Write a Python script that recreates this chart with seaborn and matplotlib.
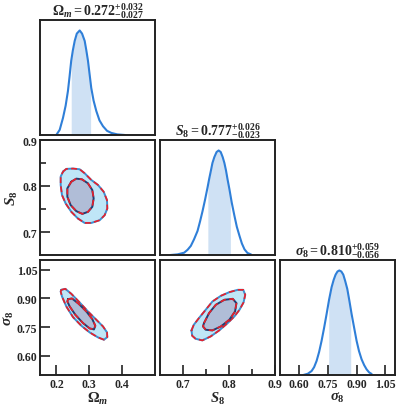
import numpy as np
import matplotlib
matplotlib.use('Agg')
import matplotlib.pyplot as plt
import seaborn as sns

# 1D marginals (peak normalised to 1)
om_x = [0.1996, 0.210, 0.220, 0.228, 0.235, 0.240, 0.245, 0.250, 0.2556, 0.262, 0.2708,
        0.278, 0.286, 0.291, 0.296, 0.301, 0.306, 0.313, 0.3213, 0.331, 0.3417, 0.354, 0.367, 0.385, 0.408]
om_p = [0.0, 0.05, 0.164, 0.28, 0.42, 0.56, 0.71, 0.81, 0.90, 0.97, 1.0,
        0.97, 0.90, 0.81, 0.71, 0.58, 0.45, 0.33, 0.23, 0.14, 0.084, 0.04, 0.02, 0.006, 0.0]
s8_x = [0.6732, 0.688, 0.7025, 0.710, 0.7170, 0.724, 0.7316, 0.737, 0.7425, 0.748, 0.7534, 0.757,
        0.7607, 0.764, 0.7681, 0.773, 0.7775, 0.782, 0.7863, 0.790, 0.7935, 0.797, 0.8009, 0.806,
        0.8118, 0.817, 0.8228, 0.828, 0.8337, 0.840, 0.848]
s8_p = [0.0, 0.006, 0.022, 0.05, 0.087, 0.15, 0.23, 0.32, 0.42, 0.53, 0.647, 0.73,
        0.808, 0.88, 0.936, 0.985, 1.0, 0.985, 0.936, 0.88, 0.808, 0.72, 0.63, 0.50,
        0.375, 0.27, 0.183, 0.11, 0.054, 0.02, 0.005]
sig_x = [0.6216, 0.645, 0.6649, 0.678, 0.6910, 0.704, 0.7170, 0.730, 0.7431, 0.756, 0.7692,
         0.780, 0.7901, 0.800, 0.8094, 0.820, 0.8302, 0.840, 0.8511, 0.862, 0.8736, 0.887,
         0.8996, 0.912, 0.9257, 0.939, 0.9518, 0.965, 0.978]
sig_p = [0.0, 0.012, 0.038, 0.075, 0.135, 0.22, 0.327, 0.45, 0.583, 0.72, 0.84,
         0.91, 0.96, 0.99, 1.0, 0.99, 0.96, 0.90, 0.823, 0.71, 0.583, 0.45,
         0.327, 0.23, 0.15, 0.095, 0.054, 0.025, 0.01]

# constraints from the panel titles
om_val, om_up, om_lo = 0.272, 0.032, 0.027
s8_val, s8_up, s8_lo = 0.777, 0.026, 0.023
sig_val, sig_up, sig_lo = 0.810, 0.059, 0.056

# 2D contours (68% inner, 95% outer)
om_s8_out_x = [0.2200, 0.2301, 0.2504, 0.2707, 0.2859, 0.3062, 0.3265, 0.3437, 0.3539, 0.3549, 0.3468, 0.3315, 0.3062, 0.2859, 0.2656, 0.2453, 0.2281, 0.2169, 0.2129, 0.2129]
om_s8_out_y = [0.8313, 0.8372, 0.8379, 0.8364, 0.8277, 0.8131, 0.8022, 0.7876, 0.7693, 0.7511, 0.7365, 0.7256, 0.7197, 0.7197, 0.7292, 0.7438, 0.7620, 0.7803, 0.8022, 0.8204]
om_s8_in_x = [0.2453, 0.2605, 0.2778, 0.2959, 0.3092, 0.3133, 0.3092, 0.2961, 0.2788, 0.2605, 0.2433, 0.2332, 0.2332]
om_s8_in_y = [0.8094, 0.8160, 0.8145, 0.8058, 0.7912, 0.7730, 0.7548, 0.7438, 0.7394, 0.7453, 0.7584, 0.7766, 0.7949]

om_sig_out_x = [0.2149, 0.2271, 0.2453, 0.2707, 0.2960, 0.3214, 0.3417, 0.3539, 0.3549, 0.3447, 0.3265, 0.3011, 0.2758, 0.2504, 0.2301, 0.2169, 0.2129]
om_sig_out_y = [0.9444, 0.9496, 0.9236, 0.8784, 0.8316, 0.7882, 0.7534, 0.7222, 0.6979, 0.6840, 0.6962, 0.7222, 0.7569, 0.8020, 0.8576, 0.9097, 0.9357]
om_sig_in_x = [0.2352, 0.2474, 0.2677, 0.2910, 0.3092, 0.3184, 0.3143, 0.3011, 0.2809, 0.2575, 0.2403, 0.2332]
om_sig_in_y = [0.8958, 0.8993, 0.8715, 0.8316, 0.7916, 0.7569, 0.7378, 0.7430, 0.7708, 0.8142, 0.8576, 0.8836]

s8_sig_out_x = [0.7184, 0.7235, 0.7346, 0.7493, 0.7640, 0.7824, 0.8007, 0.8191, 0.8309, 0.8353, 0.8316, 0.8228, 0.8117, 0.7971, 0.7787, 0.7603, 0.7420, 0.7272, 0.7199]
s8_sig_out_y = [0.7326, 0.7621, 0.7968, 0.8402, 0.8836, 0.9132, 0.9322, 0.9444, 0.9444, 0.9184, 0.8784, 0.8402, 0.8055, 0.7708, 0.7326, 0.7014, 0.6805, 0.6892, 0.7048]
s8_sig_in_x = [0.7456, 0.7566, 0.7713, 0.7897, 0.8081, 0.8162, 0.8132, 0.8007, 0.7824, 0.7640, 0.7493, 0.7434]
s8_sig_in_y = [0.7708, 0.8229, 0.8663, 0.8923, 0.8975, 0.8750, 0.8316, 0.7882, 0.7534, 0.7326, 0.7361, 0.7534]

# axes ranges and ticks
om_lim, s8_lim, sig_lim = (0.15, 0.5), (0.65, 0.9), (0.5, 1.1)
om_ticks, om_labels = [0.2, 0.3, 0.4], ['0.2', '0.3', '0.4']
s8_ticks, s8_labels = [0.7, 0.8, 0.9], ['0.7', '0.8', '0.9']
s8_minor = [0.75, 0.85]
sig_ticks, sig_labels = [0.60, 0.75, 0.90, 1.05], ['0.60', '0.75', '0.90', '1.05']

sns.set_style('ticks')
plt.rcParams['font.family'] = ['Liberation Serif']
plt.rcParams['mathtext.fontset'] = 'custom'
plt.rcParams['mathtext.rm'] = 'Liberation Serif:bold'
plt.rcParams['mathtext.bf'] = 'Liberation Serif:bold'
plt.rcParams['mathtext.it'] = 'Liberation Serif:italic:bold'

LINE = '#2f7fd8'
BAND = '#cfe1f4'
OUT_FILL, IN_FILL = '#bfe6f7', '#b0bdd7'
OUT_EDGE, IN_EDGE = '#3c8fd0', '#1f3f73'
RED = '#e8202a'
INK = '#222222'

W, H = 399, 406
fig = plt.figure(figsize=(W / 100, H / 100), dpi=100)
col_left = [40, 160, 280]
row_top = [21, 141, 261]
size = 115


def make_ax(r, c):
    ax = fig.add_axes([col_left[c] / W, 1 - (row_top[r] + size) / H, size / W, size / H])
    for s in ax.spines.values():
        s.set_linewidth(1.4)
        s.set_color(INK)
    ax.tick_params(direction='in', length=7, width=1.2, color=INK, labelsize=8.5, pad=2,
                   bottom=True, left=True)
    ax.tick_params(which='minor', direction='in', length=4, width=1.2, color=INK)
    return ax


def ticklabels(ax, axis, labels):
    lab = ax.set_xticklabels(labels) if axis == 'x' else ax.set_yticklabels(labels)
    for t in lab:
        t.set_fontweight('bold')


def marginal(ax, x, p, val, lo, hi, lim, title):
    x = np.asarray(x)
    p = np.asarray(p)
    a, b = val - lo, val + hi
    xs = np.concatenate([[a], x[(x > a) & (x < b)], [b]])
    ax.fill_between(xs, 0, np.interp(xs, x, p), color=BAND, lw=0)
    sns.lineplot(x=x, y=p, ax=ax, color=LINE, lw=1.5, sort=False, estimator=None)
    ax.set_xlim(*lim)
    ax.set_ylim(0, 1.1)
    ax.set_yticks([])
    ax.set_title(title, fontsize=10, pad=4)


def contours(ax, ox, oy, ix, iy):
    ax.fill(ox, oy, color=OUT_FILL, lw=0)
    ax.fill(ix, iy, color=IN_FILL, lw=0)
    for xs, ys, ec in [(ox, oy, OUT_EDGE), (ix, iy, IN_EDGE)]:
        xc = list(xs) + [xs[0]]
        yc = list(ys) + [ys[0]]
        sns.lineplot(x=xc, y=yc, ax=ax, color=ec, lw=1.4, sort=False, estimator=None)
        ax.plot(xc, yc, color=RED, lw=1.2, ls=(0, (3.5, 2)))


# diagonal
ax11 = make_ax(0, 0)
marginal(ax11, om_x, om_p, om_val, om_lo, om_up, om_lim,
         r'$\Omega_m = 0.272^{+0.032}_{-0.027}$')
ax11.set_xticks([])
ax22 = make_ax(1, 1)
marginal(ax22, s8_x, s8_p, s8_val, s8_lo, s8_up, s8_lim,
         r'$S_8 = 0.777^{+0.026}_{-0.023}$')
ax22.set_xticks([])
ax33 = make_ax(2, 2)
marginal(ax33, sig_x, sig_p, sig_val, sig_lo, sig_up, sig_lim,
         r'$\sigma_8 = 0.810^{+0.059}_{-0.056}$')
ax33.set_xticks(sig_ticks)
ticklabels(ax33, 'x', sig_labels)
ax33.set_xlabel(r'$\sigma_8$', fontsize=10.5, labelpad=0)

# Omega_m vs S8
ax21 = make_ax(1, 0)
contours(ax21, om_s8_out_x, om_s8_out_y, om_s8_in_x, om_s8_in_y)
ax21.set_xlim(*om_lim)
ax21.set_ylim(*s8_lim)
ax21.set_xticks([])
ax21.set_yticks(s8_ticks)
ax21.set_yticks(s8_minor, minor=True)
ticklabels(ax21, 'y', s8_labels)
ax21.set_ylabel(r'$S_8$', fontsize=11, labelpad=2)

# Omega_m vs sigma8
ax31 = make_ax(2, 0)
contours(ax31, om_sig_out_x, om_sig_out_y, om_sig_in_x, om_sig_in_y)
ax31.set_xlim(*om_lim)
ax31.set_ylim(*sig_lim)
ax31.set_xticks(om_ticks)
ticklabels(ax31, 'x', om_labels)
ax31.set_yticks(sig_ticks)
ticklabels(ax31, 'y', sig_labels)
ax31.set_xlabel(r'$\Omega_m$', fontsize=10.5, labelpad=0)
ax31.set_ylabel(r'$\sigma_8$', fontsize=11, labelpad=0)

# S8 vs sigma8
ax32 = make_ax(2, 1)
contours(ax32, s8_sig_out_x, s8_sig_out_y, s8_sig_in_x, s8_sig_in_y)
ax32.set_xlim(*s8_lim)
ax32.set_ylim(*sig_lim)
ax32.set_xticks(s8_ticks)
ax32.set_xticks(s8_minor, minor=True)
ticklabels(ax32, 'x', s8_labels)
ax32.set_yticks([])
ax32.set_xlabel(r'$S_8$', fontsize=10.5, labelpad=0)

fig.savefig('out.png', dpi=100)
